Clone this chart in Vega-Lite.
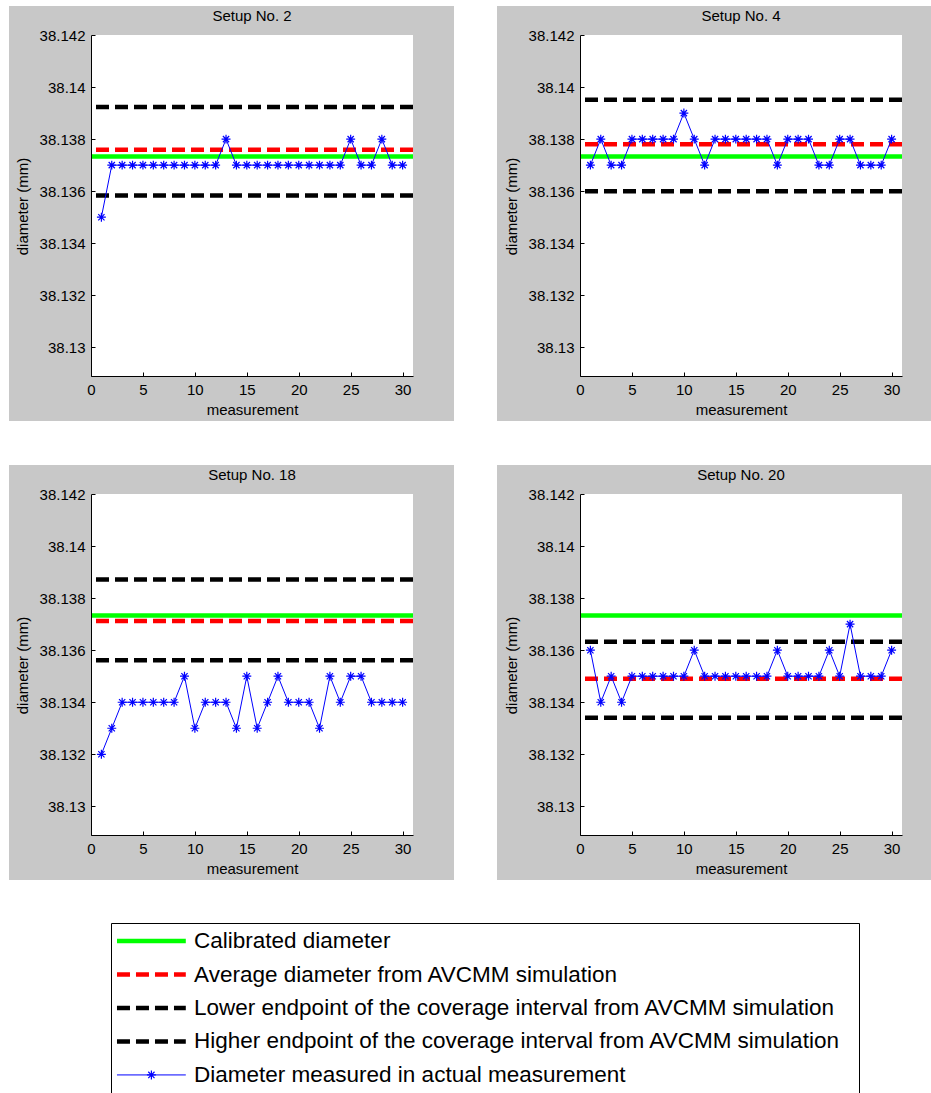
{
  "$schema": "https://vega.github.io/schema/vega-lite/v6.json",
  "background": "white",
  "padding": {"left": 9, "top": 5, "right": 0, "bottom": 0},
  "config": {
    "font": "Liberation Sans",
    "view": {"stroke": null},
    "axis": {"domainColor": "#000", "domainWidth": 1, "tickColor": "#000", "tickSize": -4, "tickWidth": 1, "labelColor": "#000", "labelFontSize": 15, "labelFont": "Liberation Sans", "titleFont": "Liberation Sans", "titleFontSize": 15, "titleFontWeight": "normal", "titleColor": "#000", "grid": false, "labelFlush": false, "labelOverlap": false, "labelBound": false},
    "title": {"font": "Liberation Sans", "fontSize": 15, "fontWeight": "normal", "color": "#000", "anchor": "middle", "frame": "group", "offset": -18, "baseline": "alphabetic"}
  },
  "datasets": {
    "refs": [
      {"setup": 2, "kind": "Calibrated", "diameter": 38.13733},
      {"setup": 2, "kind": "Average", "diameter": 38.13759},
      {"setup": 2, "kind": "Lower", "diameter": 38.13583},
      {"setup": 2, "kind": "Higher", "diameter": 38.13923},
      {"setup": 4, "kind": "Calibrated", "diameter": 38.13733},
      {"setup": 4, "kind": "Average", "diameter": 38.1378},
      {"setup": 4, "kind": "Lower", "diameter": 38.136},
      {"setup": 4, "kind": "Higher", "diameter": 38.13951},
      {"setup": 18, "kind": "Calibrated", "diameter": 38.13733},
      {"setup": 18, "kind": "Average", "diameter": 38.13712},
      {"setup": 18, "kind": "Lower", "diameter": 38.13561},
      {"setup": 18, "kind": "Higher", "diameter": 38.13872},
      {"setup": 20, "kind": "Calibrated", "diameter": 38.13733},
      {"setup": 20, "kind": "Average", "diameter": 38.1349},
      {"setup": 20, "kind": "Lower", "diameter": 38.1334},
      {"setup": 20, "kind": "Higher", "diameter": 38.13632}
    ],
    "meas": [
      {"setup": 2, "measurement": 1, "diameter": 38.135},
      {"setup": 2, "measurement": 2, "diameter": 38.137},
      {"setup": 2, "measurement": 3, "diameter": 38.137},
      {"setup": 2, "measurement": 4, "diameter": 38.137},
      {"setup": 2, "measurement": 5, "diameter": 38.137},
      {"setup": 2, "measurement": 6, "diameter": 38.137},
      {"setup": 2, "measurement": 7, "diameter": 38.137},
      {"setup": 2, "measurement": 8, "diameter": 38.137},
      {"setup": 2, "measurement": 9, "diameter": 38.137},
      {"setup": 2, "measurement": 10, "diameter": 38.137},
      {"setup": 2, "measurement": 11, "diameter": 38.137},
      {"setup": 2, "measurement": 12, "diameter": 38.137},
      {"setup": 2, "measurement": 13, "diameter": 38.138},
      {"setup": 2, "measurement": 14, "diameter": 38.137},
      {"setup": 2, "measurement": 15, "diameter": 38.137},
      {"setup": 2, "measurement": 16, "diameter": 38.137},
      {"setup": 2, "measurement": 17, "diameter": 38.137},
      {"setup": 2, "measurement": 18, "diameter": 38.137},
      {"setup": 2, "measurement": 19, "diameter": 38.137},
      {"setup": 2, "measurement": 20, "diameter": 38.137},
      {"setup": 2, "measurement": 21, "diameter": 38.137},
      {"setup": 2, "measurement": 22, "diameter": 38.137},
      {"setup": 2, "measurement": 23, "diameter": 38.137},
      {"setup": 2, "measurement": 24, "diameter": 38.137},
      {"setup": 2, "measurement": 25, "diameter": 38.138},
      {"setup": 2, "measurement": 26, "diameter": 38.137},
      {"setup": 2, "measurement": 27, "diameter": 38.137},
      {"setup": 2, "measurement": 28, "diameter": 38.138},
      {"setup": 2, "measurement": 29, "diameter": 38.137},
      {"setup": 2, "measurement": 30, "diameter": 38.137},
      {"setup": 4, "measurement": 1, "diameter": 38.137},
      {"setup": 4, "measurement": 2, "diameter": 38.138},
      {"setup": 4, "measurement": 3, "diameter": 38.137},
      {"setup": 4, "measurement": 4, "diameter": 38.137},
      {"setup": 4, "measurement": 5, "diameter": 38.138},
      {"setup": 4, "measurement": 6, "diameter": 38.138},
      {"setup": 4, "measurement": 7, "diameter": 38.138},
      {"setup": 4, "measurement": 8, "diameter": 38.138},
      {"setup": 4, "measurement": 9, "diameter": 38.138},
      {"setup": 4, "measurement": 10, "diameter": 38.139},
      {"setup": 4, "measurement": 11, "diameter": 38.138},
      {"setup": 4, "measurement": 12, "diameter": 38.137},
      {"setup": 4, "measurement": 13, "diameter": 38.138},
      {"setup": 4, "measurement": 14, "diameter": 38.138},
      {"setup": 4, "measurement": 15, "diameter": 38.138},
      {"setup": 4, "measurement": 16, "diameter": 38.138},
      {"setup": 4, "measurement": 17, "diameter": 38.138},
      {"setup": 4, "measurement": 18, "diameter": 38.138},
      {"setup": 4, "measurement": 19, "diameter": 38.137},
      {"setup": 4, "measurement": 20, "diameter": 38.138},
      {"setup": 4, "measurement": 21, "diameter": 38.138},
      {"setup": 4, "measurement": 22, "diameter": 38.138},
      {"setup": 4, "measurement": 23, "diameter": 38.137},
      {"setup": 4, "measurement": 24, "diameter": 38.137},
      {"setup": 4, "measurement": 25, "diameter": 38.138},
      {"setup": 4, "measurement": 26, "diameter": 38.138},
      {"setup": 4, "measurement": 27, "diameter": 38.137},
      {"setup": 4, "measurement": 28, "diameter": 38.137},
      {"setup": 4, "measurement": 29, "diameter": 38.137},
      {"setup": 4, "measurement": 30, "diameter": 38.138},
      {"setup": 18, "measurement": 1, "diameter": 38.132},
      {"setup": 18, "measurement": 2, "diameter": 38.133},
      {"setup": 18, "measurement": 3, "diameter": 38.134},
      {"setup": 18, "measurement": 4, "diameter": 38.134},
      {"setup": 18, "measurement": 5, "diameter": 38.134},
      {"setup": 18, "measurement": 6, "diameter": 38.134},
      {"setup": 18, "measurement": 7, "diameter": 38.134},
      {"setup": 18, "measurement": 8, "diameter": 38.134},
      {"setup": 18, "measurement": 9, "diameter": 38.135},
      {"setup": 18, "measurement": 10, "diameter": 38.133},
      {"setup": 18, "measurement": 11, "diameter": 38.134},
      {"setup": 18, "measurement": 12, "diameter": 38.134},
      {"setup": 18, "measurement": 13, "diameter": 38.134},
      {"setup": 18, "measurement": 14, "diameter": 38.133},
      {"setup": 18, "measurement": 15, "diameter": 38.135},
      {"setup": 18, "measurement": 16, "diameter": 38.133},
      {"setup": 18, "measurement": 17, "diameter": 38.134},
      {"setup": 18, "measurement": 18, "diameter": 38.135},
      {"setup": 18, "measurement": 19, "diameter": 38.134},
      {"setup": 18, "measurement": 20, "diameter": 38.134},
      {"setup": 18, "measurement": 21, "diameter": 38.134},
      {"setup": 18, "measurement": 22, "diameter": 38.133},
      {"setup": 18, "measurement": 23, "diameter": 38.135},
      {"setup": 18, "measurement": 24, "diameter": 38.134},
      {"setup": 18, "measurement": 25, "diameter": 38.135},
      {"setup": 18, "measurement": 26, "diameter": 38.135},
      {"setup": 18, "measurement": 27, "diameter": 38.134},
      {"setup": 18, "measurement": 28, "diameter": 38.134},
      {"setup": 18, "measurement": 29, "diameter": 38.134},
      {"setup": 18, "measurement": 30, "diameter": 38.134},
      {"setup": 20, "measurement": 1, "diameter": 38.136},
      {"setup": 20, "measurement": 2, "diameter": 38.134},
      {"setup": 20, "measurement": 3, "diameter": 38.135},
      {"setup": 20, "measurement": 4, "diameter": 38.134},
      {"setup": 20, "measurement": 5, "diameter": 38.135},
      {"setup": 20, "measurement": 6, "diameter": 38.135},
      {"setup": 20, "measurement": 7, "diameter": 38.135},
      {"setup": 20, "measurement": 8, "diameter": 38.135},
      {"setup": 20, "measurement": 9, "diameter": 38.135},
      {"setup": 20, "measurement": 10, "diameter": 38.135},
      {"setup": 20, "measurement": 11, "diameter": 38.136},
      {"setup": 20, "measurement": 12, "diameter": 38.135},
      {"setup": 20, "measurement": 13, "diameter": 38.135},
      {"setup": 20, "measurement": 14, "diameter": 38.135},
      {"setup": 20, "measurement": 15, "diameter": 38.135},
      {"setup": 20, "measurement": 16, "diameter": 38.135},
      {"setup": 20, "measurement": 17, "diameter": 38.135},
      {"setup": 20, "measurement": 18, "diameter": 38.135},
      {"setup": 20, "measurement": 19, "diameter": 38.136},
      {"setup": 20, "measurement": 20, "diameter": 38.135},
      {"setup": 20, "measurement": 21, "diameter": 38.135},
      {"setup": 20, "measurement": 22, "diameter": 38.135},
      {"setup": 20, "measurement": 23, "diameter": 38.135},
      {"setup": 20, "measurement": 24, "diameter": 38.136},
      {"setup": 20, "measurement": 25, "diameter": 38.135},
      {"setup": 20, "measurement": 26, "diameter": 38.137},
      {"setup": 20, "measurement": 27, "diameter": 38.135},
      {"setup": 20, "measurement": 28, "diameter": 38.135},
      {"setup": 20, "measurement": 29, "diameter": 38.135},
      {"setup": 20, "measurement": 30, "diameter": 38.136}
    ],
    "legend": [
      {"label": "Calibrated diameter"},
      {"label": "Average diameter from AVCMM simulation"},
      {"label": "Lower endpoint of the coverage interval from AVCMM simulation"},
      {"label": "Higher endpoint of the coverage interval from AVCMM simulation"},
      {"label": "Diameter measured in actual measurement"}
    ]
  },
  "vconcat": [
    {
      "spacing": 42,
      "vconcat": [
        {
          "spacing": 42,
          "hconcat": [
            {
              "width": 322, "height": 341,
              "title": "Setup No. 2",
              "layer": [
                {"data": {"values": [{}]}, "mark": {"type": "rect", "color": "#c8c8c8"}, "encoding": {"x": {"datum": -7.8944, "type": "quantitative", "scale": {"domain": [0, 31], "nice": false}}, "x2": {"datum": 34.9472}, "y": {"datum": 38.1271712, "type": "quantitative", "scale": {"domain": [38.1289, 38.142], "nice": false}}, "y2": {"datum": 38.1431141}}},
                {"data": {"values": [{}]}, "mark": {"type": "rect", "color": "#ffffff"}, "encoding": {"x": {"datum": 0, "type": "quantitative", "scale": {"domain": [0, 31], "nice": false}}, "x2": {"datum": 31}, "y": {"datum": 38.1289, "type": "quantitative", "scale": {"domain": [38.1289, 38.142], "nice": false}}, "y2": {"datum": 38.142}}},
                {"data": {"name": "refs"}, "transform": [{"filter": "datum.setup == 2 && datum.kind == 'Calibrated'"}], "mark": {"type": "rule", "color": "#00ff00", "strokeWidth": 4.5}, "encoding": {"y": {"field": "diameter", "type": "quantitative", "scale": {"domain": [38.1289, 38.142], "nice": false}}}},
                {"data": {"name": "refs"}, "transform": [{"filter": "datum.setup == 2 && datum.kind == 'Average'"}], "mark": {"type": "rule", "color": "#ff0000", "strokeWidth": 4.5, "strokeDash": [13, 6]}, "encoding": {"y": {"field": "diameter", "type": "quantitative", "scale": {"domain": [38.1289, 38.142], "nice": false}}}},
                {"data": {"name": "refs"}, "transform": [{"filter": "datum.setup == 2 && (datum.kind == 'Lower' || datum.kind == 'Higher')"}], "mark": {"type": "rule", "color": "#000000", "strokeWidth": 4.5, "strokeDash": [13, 6]}, "encoding": {"y": {"field": "diameter", "type": "quantitative", "scale": {"domain": [38.1289, 38.142], "nice": false}}}},
                {"data": {"name": "meas"}, "transform": [{"filter": "datum.setup == 2"}], "mark": {"type": "line", "color": "#0000ff", "strokeWidth": 1}, "encoding": {"x": {"field": "measurement", "type": "quantitative", "scale": {"domain": [0, 31], "nice": false}, "axis": {"zindex": 2, "title": "measurement", "values": [0, 5, 10, 15, 20, 25, 30], "format": "d", "labelBaseline": "alphabetic", "labelPadding": 22.3, "titleY": 38, "titleBaseline": "alphabetic"}}, "y": {"field": "diameter", "type": "quantitative", "scale": {"domain": [38.1289, 38.142], "nice": false}, "axis": {"zindex": 2, "title": "diameter (mm)", "values": [38.13, 38.132, 38.134, 38.136, 38.138, 38.14, 38.142], "format": ".3~f", "labelPadding": 10, "titleX": -69, "titleY": 171, "titleAngle": 270, "titleAlign": "center", "titleBaseline": "middle"}}}},
                {"data": {"name": "meas"}, "transform": [{"filter": "datum.setup == 2"}], "mark": {"type": "point", "shape": "M-1,0L1,0M0,-1L0,1M-0.7,-0.7L0.7,0.7M-0.7,0.7L0.7,-0.7", "filled": false, "color": "#0000ff", "size": 80, "strokeWidth": 1.2, "opacity": 1}, "encoding": {"x": {"field": "measurement", "type": "quantitative", "scale": {"domain": [0, 31], "nice": false}}, "y": {"field": "diameter", "type": "quantitative", "scale": {"domain": [38.1289, 38.142], "nice": false}}}}
              ]
            },
            {
              "width": 322, "height": 341,
              "title": "Setup No. 4",
              "layer": [
                {"data": {"values": [{}]}, "mark": {"type": "rect", "color": "#c8c8c8"}, "encoding": {"x": {"datum": -7.9907, "type": "quantitative", "scale": {"domain": [0, 31], "nice": false}}, "x2": {"datum": 33.87}, "y": {"datum": 38.1271712, "type": "quantitative", "scale": {"domain": [38.1289, 38.142], "nice": false}}, "y2": {"datum": 38.1431141}}},
                {"data": {"values": [{}]}, "mark": {"type": "rect", "color": "#ffffff"}, "encoding": {"x": {"datum": 0, "type": "quantitative", "scale": {"domain": [0, 31], "nice": false}}, "x2": {"datum": 31}, "y": {"datum": 38.1289, "type": "quantitative", "scale": {"domain": [38.1289, 38.142], "nice": false}}, "y2": {"datum": 38.142}}},
                {"data": {"name": "refs"}, "transform": [{"filter": "datum.setup == 4 && datum.kind == 'Calibrated'"}], "mark": {"type": "rule", "color": "#00ff00", "strokeWidth": 4.5}, "encoding": {"y": {"field": "diameter", "type": "quantitative", "scale": {"domain": [38.1289, 38.142], "nice": false}}}},
                {"data": {"name": "refs"}, "transform": [{"filter": "datum.setup == 4 && datum.kind == 'Average'"}], "mark": {"type": "rule", "color": "#ff0000", "strokeWidth": 4.5, "strokeDash": [13, 6]}, "encoding": {"y": {"field": "diameter", "type": "quantitative", "scale": {"domain": [38.1289, 38.142], "nice": false}}}},
                {"data": {"name": "refs"}, "transform": [{"filter": "datum.setup == 4 && (datum.kind == 'Lower' || datum.kind == 'Higher')"}], "mark": {"type": "rule", "color": "#000000", "strokeWidth": 4.5, "strokeDash": [13, 6]}, "encoding": {"y": {"field": "diameter", "type": "quantitative", "scale": {"domain": [38.1289, 38.142], "nice": false}}}},
                {"data": {"name": "meas"}, "transform": [{"filter": "datum.setup == 4"}], "mark": {"type": "line", "color": "#0000ff", "strokeWidth": 1}, "encoding": {"x": {"field": "measurement", "type": "quantitative", "scale": {"domain": [0, 31], "nice": false}, "axis": {"zindex": 2, "title": "measurement", "values": [0, 5, 10, 15, 20, 25, 30], "format": "d", "labelBaseline": "alphabetic", "labelPadding": 22.3, "titleY": 38, "titleBaseline": "alphabetic"}}, "y": {"field": "diameter", "type": "quantitative", "scale": {"domain": [38.1289, 38.142], "nice": false}, "axis": {"zindex": 2, "title": "diameter (mm)", "values": [38.13, 38.132, 38.134, 38.136, 38.138, 38.14, 38.142], "format": ".3~f", "labelPadding": 10, "titleX": -69, "titleY": 171, "titleAngle": 270, "titleAlign": "center", "titleBaseline": "middle"}}}},
                {"data": {"name": "meas"}, "transform": [{"filter": "datum.setup == 4"}], "mark": {"type": "point", "shape": "M-1,0L1,0M0,-1L0,1M-0.7,-0.7L0.7,0.7M-0.7,0.7L0.7,-0.7", "filled": false, "color": "#0000ff", "size": 80, "strokeWidth": 1.2, "opacity": 1}, "encoding": {"x": {"field": "measurement", "type": "quantitative", "scale": {"domain": [0, 31], "nice": false}}, "y": {"field": "diameter", "type": "quantitative", "scale": {"domain": [38.1289, 38.142], "nice": false}}}}
              ]
            }
          ]
        },
        {
          "spacing": 42,
          "hconcat": [
            {
              "width": 322, "height": 341,
              "title": "Setup No. 18",
              "layer": [
                {"data": {"values": [{}]}, "mark": {"type": "rect", "color": "#c8c8c8"}, "encoding": {"x": {"datum": -7.8944, "type": "quantitative", "scale": {"domain": [0, 31], "nice": false}}, "x2": {"datum": 34.9472}, "y": {"datum": 38.1271712, "type": "quantitative", "scale": {"domain": [38.1289, 38.142], "nice": false}}, "y2": {"datum": 38.1431141}}},
                {"data": {"values": [{}]}, "mark": {"type": "rect", "color": "#ffffff"}, "encoding": {"x": {"datum": 0, "type": "quantitative", "scale": {"domain": [0, 31], "nice": false}}, "x2": {"datum": 31}, "y": {"datum": 38.1289, "type": "quantitative", "scale": {"domain": [38.1289, 38.142], "nice": false}}, "y2": {"datum": 38.142}}},
                {"data": {"name": "refs"}, "transform": [{"filter": "datum.setup == 18 && datum.kind == 'Calibrated'"}], "mark": {"type": "rule", "color": "#00ff00", "strokeWidth": 4.5}, "encoding": {"y": {"field": "diameter", "type": "quantitative", "scale": {"domain": [38.1289, 38.142], "nice": false}}}},
                {"data": {"name": "refs"}, "transform": [{"filter": "datum.setup == 18 && datum.kind == 'Average'"}], "mark": {"type": "rule", "color": "#ff0000", "strokeWidth": 4.5, "strokeDash": [13, 6]}, "encoding": {"y": {"field": "diameter", "type": "quantitative", "scale": {"domain": [38.1289, 38.142], "nice": false}}}},
                {"data": {"name": "refs"}, "transform": [{"filter": "datum.setup == 18 && (datum.kind == 'Lower' || datum.kind == 'Higher')"}], "mark": {"type": "rule", "color": "#000000", "strokeWidth": 4.5, "strokeDash": [13, 6]}, "encoding": {"y": {"field": "diameter", "type": "quantitative", "scale": {"domain": [38.1289, 38.142], "nice": false}}}},
                {"data": {"name": "meas"}, "transform": [{"filter": "datum.setup == 18"}], "mark": {"type": "line", "color": "#0000ff", "strokeWidth": 1}, "encoding": {"x": {"field": "measurement", "type": "quantitative", "scale": {"domain": [0, 31], "nice": false}, "axis": {"zindex": 2, "title": "measurement", "values": [0, 5, 10, 15, 20, 25, 30], "format": "d", "labelBaseline": "alphabetic", "labelPadding": 22.3, "titleY": 38, "titleBaseline": "alphabetic"}}, "y": {"field": "diameter", "type": "quantitative", "scale": {"domain": [38.1289, 38.142], "nice": false}, "axis": {"zindex": 2, "title": "diameter (mm)", "values": [38.13, 38.132, 38.134, 38.136, 38.138, 38.14, 38.142], "format": ".3~f", "labelPadding": 10, "titleX": -69, "titleY": 171, "titleAngle": 270, "titleAlign": "center", "titleBaseline": "middle"}}}},
                {"data": {"name": "meas"}, "transform": [{"filter": "datum.setup == 18"}], "mark": {"type": "point", "shape": "M-1,0L1,0M0,-1L0,1M-0.7,-0.7L0.7,0.7M-0.7,0.7L0.7,-0.7", "filled": false, "color": "#0000ff", "size": 80, "strokeWidth": 1.2, "opacity": 1}, "encoding": {"x": {"field": "measurement", "type": "quantitative", "scale": {"domain": [0, 31], "nice": false}}, "y": {"field": "diameter", "type": "quantitative", "scale": {"domain": [38.1289, 38.142], "nice": false}}}}
              ]
            },
            {
              "width": 322, "height": 341,
              "title": "Setup No. 20",
              "layer": [
                {"data": {"values": [{}]}, "mark": {"type": "rect", "color": "#c8c8c8"}, "encoding": {"x": {"datum": -7.9907, "type": "quantitative", "scale": {"domain": [0, 31], "nice": false}}, "x2": {"datum": 33.87}, "y": {"datum": 38.1271712, "type": "quantitative", "scale": {"domain": [38.1289, 38.142], "nice": false}}, "y2": {"datum": 38.1431141}}},
                {"data": {"values": [{}]}, "mark": {"type": "rect", "color": "#ffffff"}, "encoding": {"x": {"datum": 0, "type": "quantitative", "scale": {"domain": [0, 31], "nice": false}}, "x2": {"datum": 31}, "y": {"datum": 38.1289, "type": "quantitative", "scale": {"domain": [38.1289, 38.142], "nice": false}}, "y2": {"datum": 38.142}}},
                {"data": {"name": "refs"}, "transform": [{"filter": "datum.setup == 20 && datum.kind == 'Calibrated'"}], "mark": {"type": "rule", "color": "#00ff00", "strokeWidth": 4.5}, "encoding": {"y": {"field": "diameter", "type": "quantitative", "scale": {"domain": [38.1289, 38.142], "nice": false}}}},
                {"data": {"name": "refs"}, "transform": [{"filter": "datum.setup == 20 && datum.kind == 'Average'"}], "mark": {"type": "rule", "color": "#ff0000", "strokeWidth": 4.5, "strokeDash": [13, 6]}, "encoding": {"y": {"field": "diameter", "type": "quantitative", "scale": {"domain": [38.1289, 38.142], "nice": false}}}},
                {"data": {"name": "refs"}, "transform": [{"filter": "datum.setup == 20 && (datum.kind == 'Lower' || datum.kind == 'Higher')"}], "mark": {"type": "rule", "color": "#000000", "strokeWidth": 4.5, "strokeDash": [13, 6]}, "encoding": {"y": {"field": "diameter", "type": "quantitative", "scale": {"domain": [38.1289, 38.142], "nice": false}}}},
                {"data": {"name": "meas"}, "transform": [{"filter": "datum.setup == 20"}], "mark": {"type": "line", "color": "#0000ff", "strokeWidth": 1}, "encoding": {"x": {"field": "measurement", "type": "quantitative", "scale": {"domain": [0, 31], "nice": false}, "axis": {"zindex": 2, "title": "measurement", "values": [0, 5, 10, 15, 20, 25, 30], "format": "d", "labelBaseline": "alphabetic", "labelPadding": 22.3, "titleY": 38, "titleBaseline": "alphabetic"}}, "y": {"field": "diameter", "type": "quantitative", "scale": {"domain": [38.1289, 38.142], "nice": false}, "axis": {"zindex": 2, "title": "diameter (mm)", "values": [38.13, 38.132, 38.134, 38.136, 38.138, 38.14, 38.142], "format": ".3~f", "labelPadding": 10, "titleX": -69, "titleY": 171, "titleAngle": 270, "titleAlign": "center", "titleBaseline": "middle"}}}},
                {"data": {"name": "meas"}, "transform": [{"filter": "datum.setup == 20"}], "mark": {"type": "point", "shape": "M-1,0L1,0M0,-1L0,1M-0.7,-0.7L0.7,0.7M-0.7,0.7L0.7,-0.7", "filled": false, "color": "#0000ff", "size": 80, "strokeWidth": 1.2, "opacity": 1}, "encoding": {"x": {"field": "measurement", "type": "quantitative", "scale": {"domain": [0, 31], "nice": false}}, "y": {"field": "diameter", "type": "quantitative", "scale": {"domain": [38.1289, 38.142], "nice": false}}}}
              ]
            }
          ]
        }
      ]
    },
    {
      "spacing": 18,
      "hconcat": [
        {"width": 1, "height": 10, "data": {"values": []}, "mark": "rule", "encoding": {}},
        {
          "width": 748, "height": 170,
          "view": {"stroke": "#000", "strokeWidth": 1, "fill": "#ffffff"},
          "data": {"name": "legend"},
          "encoding": {"y": {"field": "label", "type": "nominal", "sort": null, "scale": {"type": "point", "padding": 0.54, "domain": ["Calibrated diameter", "Average diameter from AVCMM simulation", "Lower endpoint of the coverage interval from AVCMM simulation", "Higher endpoint of the coverage interval from AVCMM simulation", "Diameter measured in actual measurement"]}, "axis": null}},
          "layer": [
            {"transform": [{"filter": "datum.label != 'Diameter measured in actual measurement'"}], "mark": {"type": "rule", "strokeWidth": 4.5}, "encoding": {"x": {"datum": 0.8, "type": "quantitative", "scale": {"domain": [0, 100], "nice": false}, "axis": null}, "x2": {"datum": 10}, "color": {"field": "label", "type": "nominal", "scale": {"domain": ["Calibrated diameter", "Average diameter from AVCMM simulation", "Lower endpoint of the coverage interval from AVCMM simulation", "Higher endpoint of the coverage interval from AVCMM simulation"], "range": ["#00ff00", "#ff0000", "#000000", "#000000"]}, "legend": null}, "strokeDash": {"field": "label", "type": "nominal", "scale": {"domain": ["Calibrated diameter", "Average diameter from AVCMM simulation", "Lower endpoint of the coverage interval from AVCMM simulation", "Higher endpoint of the coverage interval from AVCMM simulation"], "range": [[1, 0], [13, 6], [13, 6], [13, 6]]}, "legend": null}}},
            {"transform": [{"filter": "datum.label == 'Diameter measured in actual measurement'"}], "mark": {"type": "rule", "strokeWidth": 1, "color": "#0000ff"}, "encoding": {"x": {"datum": 0.8, "type": "quantitative", "scale": {"domain": [0, 100], "nice": false}, "axis": null}, "x2": {"datum": 10}}},
            {"transform": [{"filter": "datum.label == 'Diameter measured in actual measurement'"}], "mark": {"type": "point", "shape": "M-1,0L1,0M0,-1L0,1M-0.7,-0.7L0.7,0.7M-0.7,0.7L0.7,-0.7", "filled": false, "color": "#0000ff", "size": 80, "strokeWidth": 1.2, "opacity": 1}, "encoding": {"x": {"datum": 5.4, "type": "quantitative", "scale": {"domain": [0, 100], "nice": false}, "axis": null}}},
            {"mark": {"type": "text", "align": "left", "baseline": "middle", "fontSize": 22.5, "font": "Liberation Sans", "color": "#000000"}, "encoding": {"x": {"datum": 11.1, "type": "quantitative", "scale": {"domain": [0, 100], "nice": false}, "axis": null}, "text": {"field": "label", "type": "nominal"}}}
          ]
        }
      ]
    }
  ],
  "spacing": 41
}
